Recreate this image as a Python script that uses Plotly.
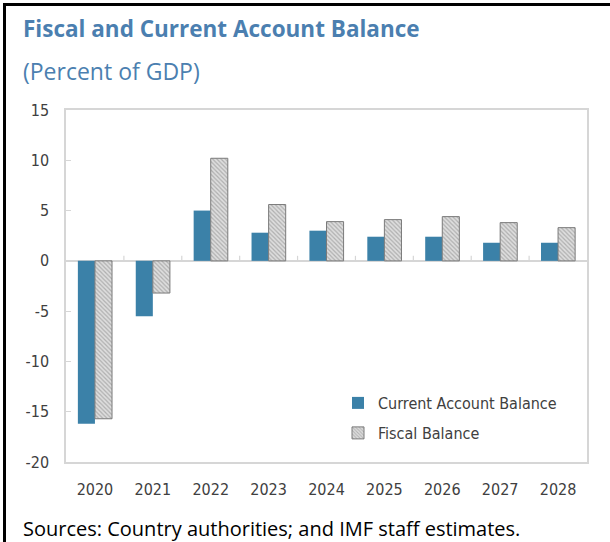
import plotly.graph_objects as go

# Data (percent of GDP)
years = ["2020", "2021", "2022", "2023", "2024", "2025", "2026", "2027", "2028"]
current_account = [-16.2, -5.5, 5.0, 2.8, 3.0, 2.4, 2.4, 1.8, 1.8]
fiscal_balance = [-15.7, -3.2, 10.2, 5.6, 3.9, 4.1, 4.4, 3.8, 3.3]
y_ticks = [-20, -15, -10, -5, 0, 5, 10, 15]
y_tick_labels = ["-20", "-15", "-10", "-5", "0", "5", "10", "15"]

W, H = 610, 542
L, R, T, B = 66, 23, 110, 80
PW, PH = W - L - R, H - T - B


def px_x(px):
    return (px - L) / PW


def px_y(py):
    return (H - B - py) / PH


narrow = "DejaVu Sans Condensed, Open Sans, sans-serif"
text_col = "#404040"
frame_col = "#d6d6d6"

fig = go.Figure()
fig.add_trace(go.Bar(
    x=years, y=current_account, name="Current Account Balance",
    marker=dict(color="#3b81a8", line=dict(width=0)),
    legend="legend",
))
fig.add_trace(go.Bar(
    x=years, y=fiscal_balance, name="Fiscal Balance",
    marker=dict(
        color="#d4d4d4",
        line=dict(color="#7a7a7a", width=1),
        pattern=dict(shape="\\", fgcolor="#808080", bgcolor="#dedede",
                     size=3, solidity=0.4),
    ),
    legend="legend2",
))

shapes = []
# small ticks on the zero line between categories
for i in range(len(years) - 1):
    shapes.append(dict(type="line", xref="x", yref="y",
                       x0=i + 0.5, x1=i + 0.5, y0=0, y1=0.5,
                       line=dict(color=frame_col, width=1.2)))
# outer panel border (left and top)
shapes.append(dict(type="path", xref="paper", yref="paper",
                   path=f"M {px_x(4.5)} {px_y(560)} L {px_x(4.5)} {px_y(4.5)} L {px_x(615)} {px_y(4.5)}",
                   line=dict(color="black", width=3)))

annotations = [
    dict(text="<b>Fiscal and Current Account Balance</b>", xref="paper", yref="paper",
         x=px_x(21), y=px_y(29), xanchor="left", yanchor="middle", showarrow=False,
         font=dict(family="Open Sans", size=22.5, color="#4b7fb0")),
    dict(text="(Percent of GDP)", xref="paper", yref="paper",
         x=px_x(21), y=px_y(71), xanchor="left", yanchor="middle", showarrow=False,
         font=dict(family="Open Sans", size=23, color="#4b7fb0")),
    dict(text="Sources: Country authorities; and IMF staff estimates.", xref="paper", yref="paper",
         x=px_x(21), y=px_y(528), xanchor="left", yanchor="middle", showarrow=False,
         font=dict(family="Open Sans", size=20, color="black")),
]

legend_style = dict(xanchor="left", yanchor="middle", bgcolor="rgba(0,0,0,0)",
                    font=dict(family=narrow, size=16, color=text_col), itemwidth=30)

fig.update_layout(
    width=W, height=H,
    margin=dict(l=L, r=R, t=T, b=B),
    paper_bgcolor="white", plot_bgcolor="white",
    barmode="group", bargap=0.41, bargroupgap=0,
    shapes=shapes, annotations=annotations,
    showlegend=True,
    legend=dict(x=px_x(338), y=px_y(403), **legend_style),
    legend2=dict(x=px_x(338), y=px_y(433), **legend_style),
    font=dict(family=narrow, color=text_col),
)
fig.update_xaxes(
    type="category", showgrid=False, showline=True, mirror=True,
    linecolor=frame_col, linewidth=1.5, ticks="",
    tickfont=dict(family=narrow, size=16, color=text_col),
    ticklabelstandoff=12,
)
fig.update_yaxes(
    range=[-20, 15], tickvals=y_ticks, ticktext=y_tick_labels, showgrid=False,
    showline=True, mirror=True, linecolor=frame_col, linewidth=1.5,
    ticks="inside", ticklen=5, tickcolor=frame_col,
    zeroline=True, zerolinecolor=frame_col, zerolinewidth=1.5,
    tickfont=dict(family=narrow, size=16, color=text_col),
    ticklabelstandoff=12,
)

fig.write_html("out.html")
